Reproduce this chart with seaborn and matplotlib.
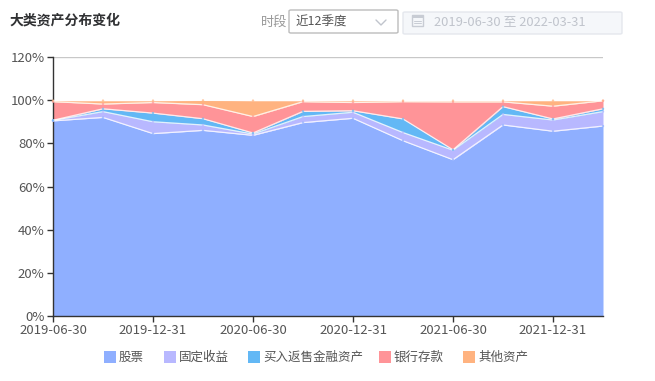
import numpy as np
import matplotlib
matplotlib.use('Agg')
import matplotlib.pyplot as plt
from matplotlib.patches import FancyBboxPatch, Rectangle
import pandas as pd
import seaborn as sns

quarters = ['2019-06-30', '2019-09-30', '2019-12-31', '2020-03-31', '2020-06-30', '2020-09-30',
            '2020-12-31', '2021-03-31', '2021-06-30', '2021-09-30', '2021-12-31', '2022-03-31']
stocks = [90.4, 92.0, 84.5, 86.0, 83.7, 89.6, 91.6, 81.2, 72.4, 88.5, 85.6, 88.0]
fixed_income = [0.2, 2.7, 5.5, 2.5, 0.6, 2.8, 2.8, 3.8, 4.4, 4.9, 5.2, 6.7]
reverse_repo = [0.1, 1.3, 4.0, 2.9, 0.5, 2.4, 0.7, 6.3, 0.2, 3.6, 0.5, 1.3]
bank_deposits = [8.6, 2.2, 4.9, 6.5, 7.6, 4.5, 3.8, 8.0, 22.2, 2.2, 5.9, 3.7]
other_assets = [0.5, 1.6, 0.9, 2.0, 7.4, 0.5, 0.9, 0.5, 0.6, 0.6, 2.6, 0.1]

series_names = ['股票', '固定收益', '买入返售金融资产', '银行存款', '其他资产']
colors = ['#8FAFFF', '#B8B8FF', '#63B8F5', '#FF9498', '#FFB380']
y_ticks = [0, 20, 40, 60, 80, 100, 120]

sns.set_theme(style='white')
plt.rcParams['font.family'] = ['Noto Sans CJK SC', 'DejaVu Sans']

W, H = 655, 381
fig = plt.figure(figsize=(W / 100, H / 100), dpi=100)
ax = fig.add_axes([53 / W, 1 - 316 / H, 550 / W, 259 / H])

x = np.arange(len(quarters))
stack = np.cumsum([stocks, fixed_income, reverse_repo, bank_deposits, other_assets], axis=0)
ax.stackplot(x, stocks, fixed_income, reverse_repo, bank_deposits, other_assets,
             colors=colors, linewidth=0, zorder=2)

# white edge on top of each band
for i, top in enumerate(stack):
    df = pd.DataFrame({'x': x, 'y': top})
    sns.lineplot(data=df, x='x', y='y', ax=ax, color='white', linewidth=0.9, alpha=0.8, zorder=3)
    ax.scatter(x, top, s=3, color=colors[i], edgecolor='none', alpha=0.7, zorder=4, clip_on=False)

ax.set_xlim(0, len(quarters) - 1)
ax.set_ylim(0, 120)
ax.set_xlabel('')
ax.set_ylabel('')
ax.set_xticks(x[::2], quarters[::2])
ax.set_yticks(y_ticks, [f'{v}%' for v in y_ticks])
ax.axhline(120, color='#c8c8c8', linewidth=1, zorder=1)
ax.tick_params(axis='both', length=4, width=1, color='#333333', labelcolor='#555555', labelsize=9.5, pad=2,
               bottom=True, left=True)
sns.despine(ax=ax, top=True, right=True)
ax.spines['left'].set_color('#333333')
ax.spines['bottom'].set_color('#333333')
ax.spines['left'].set_linewidth(1)
ax.spines['bottom'].set_linewidth(1)

# header
def px_text(px, py, s, **kw):
    fig.text(px / W, 1 - py / H, s, va='center', **kw)

px_text(9, 21, '大类资产分布变化', fontsize=10, fontweight='bold', color='#303133')
px_text(261, 22, '时段', fontsize=9.5, color='#999999')
px_text(296, 22, '近12季度', fontsize=9, color='#555555')
px_text(434, 22, '2019-06-30 至 2022-03-31', fontsize=9.3, color='#c0c4cc')

fig.add_artist(FancyBboxPatch((289 / W, 1 - 33 / H), 109 / W, 23 / H, boxstyle='round,pad=0,rounding_size=0.003',
                              transform=fig.transFigure, facecolor='white', edgecolor='#bcbcbc', linewidth=1))
fig.add_artist(FancyBboxPatch((403 / W, 1 - 34 / H), 219 / W, 22 / H, boxstyle='round,pad=0,rounding_size=0.003',
                              transform=fig.transFigure, facecolor='#f5f7fa', edgecolor='#e4e7ed', linewidth=1))
# dropdown arrow
fig.add_artist(plt.Line2D([376 / W, 381 / W, 386 / W], [1 - 20 / H, 1 - 25 / H, 1 - 20 / H],
                          color='#c0c4cc', linewidth=1))
# calendar icon
fig.add_artist(Rectangle((412 / W, 1 - 26 / H), 11 / W, 11 / H, transform=fig.transFigure,
                         facecolor='none', edgecolor='#c8ccd4', linewidth=1))
fig.add_artist(Rectangle((412 / W, 1 - 18 / H), 11 / W, 3 / H, transform=fig.transFigure,
                         facecolor='#c8ccd4', edgecolor='none'))
for ly in (20.5, 23):
    fig.add_artist(plt.Line2D([414 / W, 421 / W], [1 - ly / H, 1 - ly / H], color='#c8ccd4', linewidth=0.7))

# legend
legend_x = [104, 164, 248, 379, 463]
for name, color, lx in zip(series_names, colors, legend_x):
    fig.add_artist(Rectangle((lx / W, 1 - 363 / H), 12 / W, 12 / H, transform=fig.transFigure,
                             facecolor=color, edgecolor='none'))
    px_text(lx + 15, 357, name, fontsize=9, color='#555555')

fig.savefig('out.png', dpi=100)
